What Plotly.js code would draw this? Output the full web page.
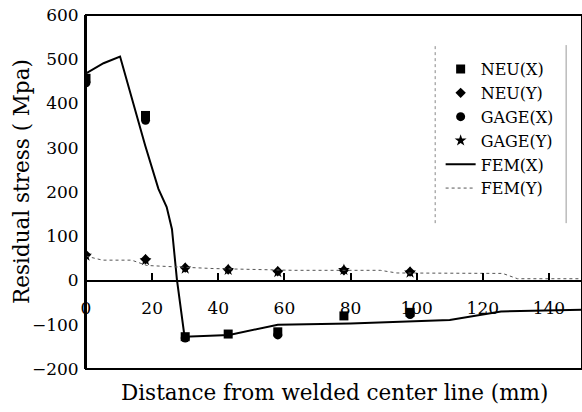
<!DOCTYPE html>
<html><head><meta charset="utf-8">
<script src="https://cdn.plot.ly/plotly-3.0.1.min.js"></script>
<style>html,body{margin:0;padding:0;background:#fff}</style>
</head><body><div id="chart" style="width:582px;height:412px"></div>
<script>
const neuX_x = [0, 18, 30, 43, 58, 78, 98];
const neuX_y = [457, 373, -127, -121, -116, -80, -72];
const neuY_x = [0, 18, 30, 43, 58, 78, 98];
const neuY_y = [58, 48, 29, 25, 21, 23, 20];
const gageX_x = [0, 18, 30, 58, 98];
const gageX_y = [447, 362, -130, -123, -77];
const gageY_x = [0, 18, 30, 43, 58, 78, 98];
const gageY_y = [56, 46, 27, 24, 19, 24, 18];
const femX_x = [0, 5.3, 10.3, 17.9, 21.9, 24.4, 26, 27.5, 29.8, 43.3, 58, 80, 110, 125.5, 150];
const femX_y = [468, 491, 506, 305, 207, 166, 116, 2, -127, -123, -100, -97, -89, -70, -66];
const femY_x = [0, 5, 13.8, 18.4, 26.4, 38.5, 62.8, 89, 94, 126, 130.5, 150];
const femY_y = [55, 46, 46, 34, 31, 27, 23, 23, 17, 16, 4, 4];
const xTicks = [0, 20, 40, 60, 80, 100, 120, 140];
const yTicks = [-200, -100, 0, 100, 200, 300, 400, 500, 600];

const serif = 'DejaVu Serif, serif';
const traces = [
  {x: neuX_x, y: neuX_y, name: 'NEU(X)', mode: 'markers', type: 'scatter',
   marker: {symbol: 'square', size: 9, color: '#000'}},
  {x: neuY_x, y: neuY_y, name: 'NEU(Y)', mode: 'markers', type: 'scatter',
   marker: {symbol: 'diamond', size: 8, color: '#000'}},
  {x: gageX_x, y: gageX_y, name: 'GAGE(X)', mode: 'markers', type: 'scatter',
   marker: {symbol: 'circle', size: 9, color: '#000'}},
  {x: gageY_x, y: gageY_y, name: 'GAGE(Y)', mode: 'markers', type: 'scatter',
   marker: {symbol: 'star', size: 9, color: '#000'}},
  {x: femX_x, y: femX_y, name: 'FEM(X)', mode: 'lines', type: 'scatter',
   line: {color: '#000', width: 2}},
  {x: femY_x, y: femY_y, name: 'FEM(Y)', mode: 'lines', type: 'scatter',
   line: {color: '#555', width: 1, dash: 'dot'}}
];

const layout = {
  width: 582, height: 412,
  margin: {l: 86, r: 0, t: 15, b: 43},
  paper_bgcolor: '#fff', plot_bgcolor: '#fff',
  font: {family: serif, color: '#000', size: 17},
  showlegend: true,
  legend: {x: 0.715, y: 0.895, xanchor: 'left', yanchor: 'top',
           font: {family: serif, size: 16, color: '#000'},
           bgcolor: 'rgba(0,0,0,0)', borderwidth: 0, tracegroupgap: 0},
  xaxis: {range: [0, 150], tickvals: xTicks, ticktext: xTicks.map(String),
          anchor: 'free', position: 0.25, showgrid: false, zeroline: false,
          showline: true, linecolor: '#000', linewidth: 2,
          ticks: 'inside', ticklen: 7, tickwidth: 2, tickcolor: '#000',
          ticklabelstandoff: 12,
          tickfont: {family: serif, size: 17, color: '#000'}},
  yaxis: {range: [-200, 600], tickvals: yTicks, ticktext: yTicks.map(v => v < 0 ? '\u2212' + Math.abs(v) : String(v)),
          showgrid: false, zeroline: false, showline: true, linecolor: '#000', linewidth: 2,
          ticks: '', ticklabelstandoff: 2,
          tickfont: {family: serif, size: 17, color: '#000'}},
  shapes: [
    {type: 'rect', xref: 'paper', yref: 'paper', x0: 0, x1: 1, y0: 0, y1: 1,
     line: {color: '#000', width: 2}},
    {type: 'line', xref: 'paper', yref: 'paper', x0: 0.704, x1: 0.704, y0: 0.412, y1: 0.915,
     line: {color: '#888', width: 1, dash: 'dot'}},
    {type: 'line', xref: 'paper', yref: 'paper', x0: 0.968, x1: 0.968, y0: 0.412, y1: 0.915,
     line: {color: '#999', width: 1}}
  ],
  annotations: [
    {text: 'Distance from welded center line (mm)', xref: 'paper', yref: 'paper',
     x: 0.5, y: -0.065, xanchor: 'center', yanchor: 'middle', showarrow: false,
     font: {family: serif, size: 21.5, color: '#000'}},
    {text: 'Residual stress ( Mpa)', xref: 'paper', yref: 'paper',
     x: -0.13, y: 0.53, xanchor: 'center', yanchor: 'middle', textangle: -90, showarrow: false,
     font: {family: serif, size: 21.5, color: '#000'}}
  ]
};
Plotly.newPlot('chart', traces, layout, {displayModeBar: false, staticPlot: true});
</script></body></html>
